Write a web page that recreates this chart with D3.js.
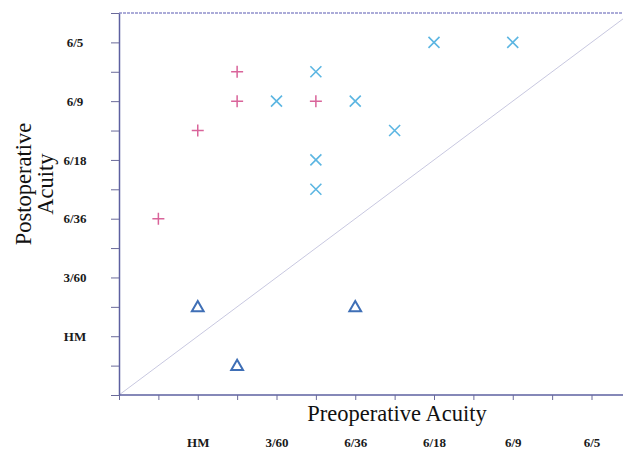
<!DOCTYPE html>
<html>
<head>
<meta charset="utf-8">
<script src="https://cdn.jsdelivr.net/npm/d3@7"></script>
<style>
  body { margin: 0; background: #fff; }
  text { font-family: "Liberation Serif", "DejaVu Serif", serif; }
</style>
</head>
<body>
<div id="chart"></div>
<script>
// acuity levels, index = half steps from the origin
var acuityLabels = ["HM", "3/60", "6/36", "6/18", "6/9", "6/5"]
var acuityIndex = [2, 4, 6, 8, 10, 12]

// improved (+)
var plusPre = [1, 2, 3, 3, 5]
var plusPost = [6, 9, 11, 10, 10]

// improved (x)
var crossPre = [4, 5, 6, 5, 5, 7, 8, 10]
var crossPost = [10, 11, 10, 8, 7, 9, 12, 12]

// worse (triangle)
var triPre = [2, 3, 6]
var triPost = [3, 1, 3]

var width = 623, height = 449

var svg = d3.select("#chart").append("svg")
  .attr("width", width)
  .attr("height", height)

var x = d3.scaleLinear().domain([0, 12.8]).range([119, 623])
var y = d3.scaleLinear().domain([0, 13]).range([395, 13])

var labelFor = function (i) {
  var k = acuityIndex.indexOf(i)
  return k >= 0 ? acuityLabels[k] : ""
}

// top frame line
svg.append("line")
  .attr("x1", x(0)).attr("x2", width)
  .attr("y1", y(13)).attr("y2", y(13))
  .attr("stroke", "#9090cc")
  .attr("stroke-width", 1.3)
  .attr("stroke-dasharray", "3,1")

// diagonal of no change
svg.append("line")
  .attr("x1", x(0)).attr("y1", y(0))
  .attr("x2", x(12.8)).attr("y2", y(12.8))
  .attr("stroke", "#c8c8e0")
  .attr("stroke-width", 1)

var yAxis = svg.append("g")
  .attr("transform", "translate(" + x(0) + ",0)")
  .call(d3.axisLeft(y).tickValues(d3.range(0, 14)).tickSize(8).tickSizeOuter(0).tickFormat(labelFor))

yAxis.selectAll("text")
  .attr("x", -44)
  .attr("text-anchor", "middle")
  .attr("font-size", 13)
  .attr("font-weight", "bold")
  .attr("fill", "#1a1a1a")

var xAxis = svg.append("g")
  .attr("transform", "translate(0," + y(0) + ")")
  .call(d3.axisBottom(x).tickValues(d3.range(0, 13)).tickSize(5).tickSizeOuter(0).tickFormat(labelFor))

xAxis.selectAll("text")
  .attr("y", 43)
  .attr("font-size", 13)
  .attr("font-weight", "bold")
  .attr("fill", "#1a1a1a")

svg.selectAll(".domain").attr("stroke", "#5d60a0").attr("stroke-width", 1.5)
svg.selectAll(".tick line").attr("stroke", "#6a6a9a").attr("stroke-width", 1)
xAxis.select(".domain").attr("d", "M" + x(0) + ",0H" + width)

// axis titles
svg.append("text")
  .attr("x", 397).attr("y", 421)
  .attr("text-anchor", "middle")
  .attr("font-size", 22.5)
  .attr("fill", "#111")
  .text("Preoperative Acuity")

var yt = svg.append("g").attr("transform", "translate(0,184) rotate(-90)")
yt.append("text")
  .attr("x", 0).attr("y", 31)
  .attr("text-anchor", "middle")
  .attr("font-size", 22.5)
  .attr("fill", "#111")
  .text("Postoperative")
yt.append("text")
  .attr("x", 0).attr("y", 53)
  .attr("text-anchor", "middle")
  .attr("font-size", 22.5)
  .attr("fill", "#111")
  .text("Acuity")

// markers
var plus = d3.range(plusPre.length).map(i => ({ a: plusPre[i], b: plusPost[i] }))
var cross = d3.range(crossPre.length).map(i => ({ a: crossPre[i], b: crossPost[i] }))
var tri = d3.range(triPre.length).map(i => ({ a: triPre[i], b: triPost[i] }))

var r = 6
svg.append("g").selectAll("path")
  .data(plus)
  .join("path")
  .attr("d", d => "M" + (x(d.a) - r) + "," + y(d.b) + "h" + 2 * r + "M" + x(d.a) + "," + (y(d.b) - r) + "v" + 2 * r)
  .attr("stroke", "#d9649a")
  .attr("stroke-width", 1.5)
  .attr("fill", "none")

var c = 5.5
svg.append("g").selectAll("path")
  .data(cross)
  .join("path")
  .attr("d", d => "M" + (x(d.a) - c) + "," + (y(d.b) - c) + "l" + 2 * c + "," + 2 * c +
    "M" + (x(d.a) - c) + "," + (y(d.b) + c) + "l" + 2 * c + "," + -2 * c)
  .attr("stroke", "#5cb6e2")
  .attr("stroke-width", 1.6)
  .attr("fill", "none")

svg.append("g").selectAll("path")
  .data(tri)
  .join("path")
  .attr("transform", d => "translate(" + x(d.a) + "," + (y(d.b) + 1) + ")")
  .attr("d", d3.symbol(d3.symbolTriangle, 60))
  .attr("stroke", "#3f6fb6")
  .attr("stroke-width", 2)
  .attr("fill", "none")
</script>
</body>
</html>
